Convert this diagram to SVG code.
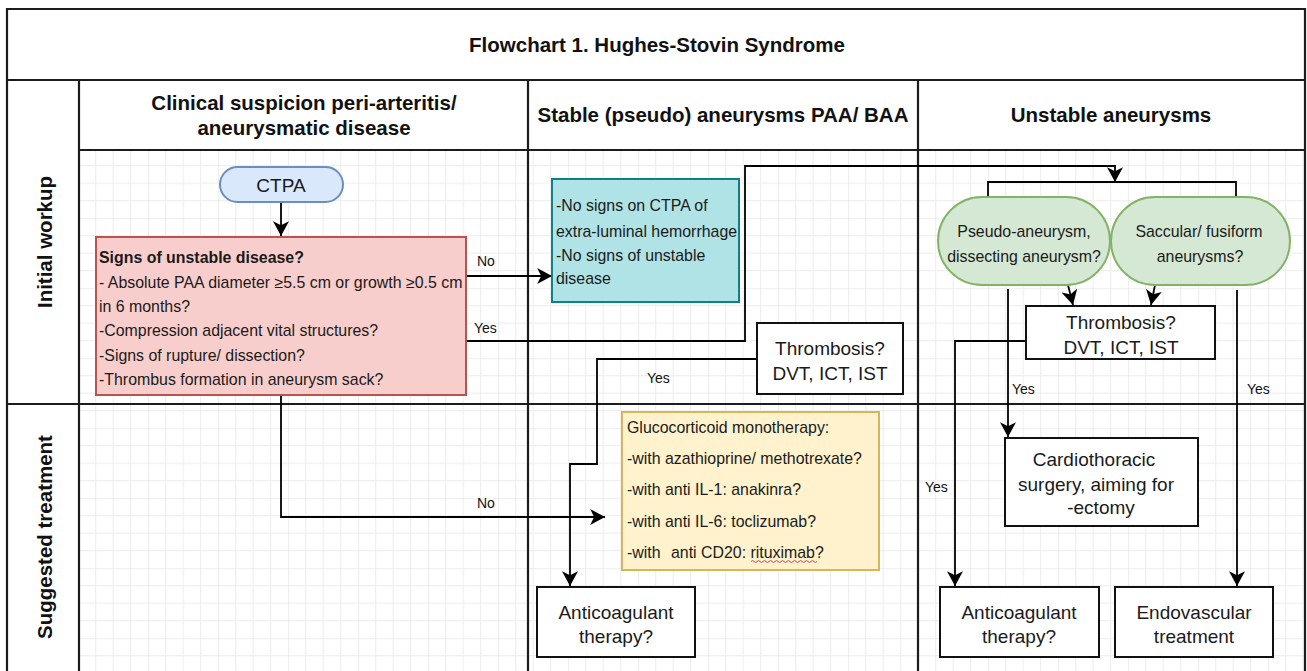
<svg xmlns="http://www.w3.org/2000/svg" width="1307" height="671" viewBox="0 0 1307 671">
<style>
.lane{fill:none;stroke:#1c1c1c;stroke-width:2.2}
.hdr{font-family:"Liberation Sans",Arial,sans-serif;font-weight:bold;font-size:20.5px;fill:#111;text-anchor:middle}
.box{fill:#fff;stroke:#111;stroke-width:2}
.t15{font-family:"Liberation Sans",Arial,sans-serif;font-size:15.9px;fill:#1a1a1a}
.t19{font-family:"Liberation Sans",Arial,sans-serif;font-size:19px;fill:#1a1a1a;text-anchor:middle}
.lbl{font-family:"Liberation Sans",Arial,sans-serif;font-size:14px;fill:#111}
.edge{fill:none;stroke:#000;stroke-width:1.8}
</style>
<defs>
<pattern id="grid" patternUnits="userSpaceOnUse" x="8.2" y="8.2" width="70" height="70">
<path d="M17.5,0V70M35,0V70M52.5,0V70M0,17.5H70M0,35H70M0,52.5H70" stroke="#ececec" stroke-width="1" fill="none"/>
<path d="M0,0V70M0,0H70" stroke="#dedede" stroke-width="1.2" fill="none"/>
</pattern>
<marker id="arr" markerUnits="userSpaceOnUse" markerWidth="16" markerHeight="16" refX="13" refY="7" orient="auto" viewBox="0 0 14 14">
<path d="M0,0 L13,7 L0,14 L3.5,7 Z" fill="#000"/>
</marker>
</defs>
<rect width="1307" height="671" fill="#fff"/>
<rect x="79" y="150" width="1226" height="530" fill="url(#grid)"/>

<g id="lanes">
<path class="lane" d="M7,680V9H1305V680M7,80H1305M79,150H1305M7,404H1305M79,80V680M528,80V680M918,80V680"/>
<text class="hdr" x="657" y="52">Flowchart 1. Hughes-Stovin Syndrome</text>
<text class="hdr" x="304" y="110">Clinical suspicion peri-arteritis/</text>
<text class="hdr" x="304" y="135">aneurysmatic disease</text>
<text class="hdr" x="723" y="122">Stable (pseudo) aneurysms PAA/ BAA</text>
<text class="hdr" x="1111" y="122">Unstable aneurysms</text>
<text class="hdr" transform="translate(52,242) rotate(-90)">Initial workup</text>
<text class="hdr" transform="translate(52,537) rotate(-90)">Suggested treatment</text>
</g>

<g id="connectors">
<path class="edge" d="M281,202V236" marker-end="url(#arr)"/>
<path class="edge" d="M466,276H552" marker-end="url(#arr)"/>
<path class="edge" d="M466,341H745V166H1115V182" marker-end="url(#arr)"/>
<path class="edge" d="M988,197V182H1236V197"/>
<path class="edge" d="M1068,285L1073,305" marker-end="url(#arr)"/>
<path class="edge" d="M1155,285L1151,305" marker-end="url(#arr)"/>
<path class="edge" d="M1026,341H955V586" marker-end="url(#arr)"/>
<path class="edge" d="M1008,289V437" marker-end="url(#arr)"/>
<path class="edge" d="M1237,290V586" marker-end="url(#arr)"/>
<path class="edge" d="M281,395V517H605" marker-end="url(#arr)"/>
<path class="edge" d="M757,359H597V464H570V586" marker-end="url(#arr)"/>
<text class="lbl" x="477" y="266">No</text>
<text class="lbl" x="474" y="333">Yes</text>
<text class="lbl" x="477" y="508">No</text>
<text class="lbl" x="647" y="383">Yes</text>
<text class="lbl" x="925" y="492">Yes</text>
<text class="lbl" x="1012" y="394">Yes</text>
<text class="lbl" x="1247" y="394">Yes</text>
</g>

<g id="ctpa">
<rect x="220" y="167" width="123" height="35" rx="17.5" fill="#dae8fc" stroke="#6c8ebf" stroke-width="2"/>
<text class="t19" x="281" y="191.5">CTPA</text>
</g>

<g id="unstable-signs">
<rect x="96" y="237" width="370" height="158" fill="#f8cecc" stroke="#b85450" stroke-width="2"/>
<text class="t15" x="99" y="262.5" font-weight="bold">Signs of unstable disease?</text>
<text class="t15" x="99" y="287.5">- Absolute PAA diameter ≥5.5 cm or growth ≥0.5 cm</text>
<text class="t15" x="99" y="311.5">in 6 months?</text>
<text class="t15" x="99" y="335.5">-Compression adjacent vital structures?</text>
<text class="t15" x="99" y="360.5">-Signs of rupture/ dissection?</text>
<text class="t15" x="99" y="384.5">-Thrombus formation in aneurysm sack?</text>
</g>

<g id="stable-criteria">
<rect x="552" y="179" width="187" height="123" fill="#b0e3e6" stroke="#0e8088" stroke-width="2"/>
<text class="t15" x="556" y="210.5">-No signs on CTPA of</text>
<text class="t15" x="556" y="236.5">extra-luminal hemorrhage</text>
<text class="t15" x="556" y="260.5">-No signs of unstable</text>
<text class="t15" x="556" y="283.5">disease</text>
</g>

<g id="thrombosis-stable">
<rect class="box" x="757" y="323" width="146" height="71"/>
<text class="t19" x="830" y="354.5">Thrombosis?</text>
<text class="t19" x="830" y="379.5">DVT, ICT, IST</text>
</g>

<g id="pseudo-aneurysm">
<rect x="938" y="197" width="172" height="88" rx="44" fill="#d5e8d4" stroke="#82b366" stroke-width="2"/>
<text class="t15" x="1024" y="236.5" text-anchor="middle">Pseudo-aneurysm,</text>
<text class="t15" x="1024" y="261.5" text-anchor="middle">dissecting aneurysm?</text>
</g>

<g id="saccular">
<rect x="1111" y="197" width="179" height="88" rx="44" fill="#d5e8d4" stroke="#82b366" stroke-width="2"/>
<text class="t15" x="1199" y="236.5" text-anchor="middle">Saccular/ fusiform</text>
<text class="t15" x="1200" y="261.5" text-anchor="middle">aneurysms?</text>
</g>

<g id="thrombosis-unstable">
<rect class="box" x="1026" y="306" width="189" height="53"/>
<text class="t19" x="1121" y="328.5">Thrombosis?</text>
<text class="t19" x="1121" y="353.5">DVT, ICT, IST</text>
</g>

<g id="glucocorticoid">
<rect x="622" y="412" width="257" height="158" fill="#fff2cc" stroke="#d6b656" stroke-width="2"/>
<text class="t15" x="627" y="432.5">Glucocorticoid monotherapy:</text>
<text class="t15" x="627" y="463.5">-with azathioprine/ methotrexate?</text>
<text class="t15" x="627" y="494.5">-with anti IL-1: anakinra?</text>
<text class="t15" x="627" y="526.5">-with anti IL-6: toclizumab?</text>
<text class="t15" x="627" y="557.5">-with<tspan x="671">anti CD20: rituximab?</tspan></text>
<path d="M751,561.5q1.5,-2 3,0t3,0t3,0t3,0t3,0t3,0t3,0t3,0t3,0t3,0t3,0t3,0t3,0t3,0t3,0t3,0t3,0t3,0t3,0t3,0t3,0t3,0" fill="none" stroke="#e04040" stroke-width="1"/>
</g>

<g id="anticoag-stable">
<rect class="box" x="537" y="587" width="158" height="70"/>
<text class="t19" x="616" y="618.5">Anticoagulant</text>
<text class="t19" x="616" y="642.5">therapy?</text>
</g>

<g id="cardiothoracic">
<rect class="box" x="1005" y="438" width="193" height="88"/>
<text class="t19" x="1094" y="465.5">Cardiothoracic</text>
<text class="t19" x="1096" y="490.5">surgery, aiming for</text>
<text class="t19" x="1101" y="513.5">-ectomy</text>
</g>

<g id="anticoag-unstable">
<rect class="box" x="940" y="587" width="159" height="70"/>
<text class="t19" x="1019" y="618.5">Anticoagulant</text>
<text class="t19" x="1019" y="642.5">therapy?</text>
</g>

<g id="endovascular">
<rect class="box" x="1115" y="587" width="158" height="70"/>
<text class="t19" x="1194" y="618.5">Endovascular</text>
<text class="t19" x="1194" y="642.5">treatment</text>
</g>
</svg>
